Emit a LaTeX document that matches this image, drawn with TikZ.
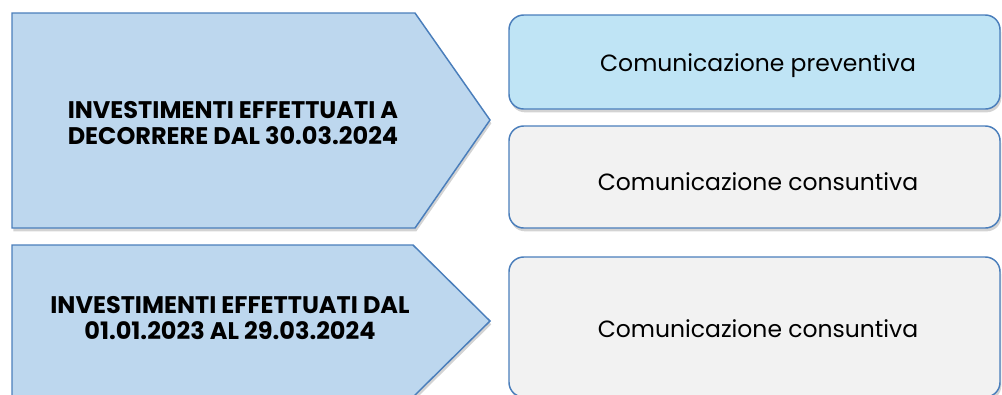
\documentclass[tikz,border=0pt]{standalone}
\usepackage{fontspec}
\setmainfont{Poppins}
\usetikzlibrary{shadows}

\definecolor{arrowblue}{HTML}{BDD7EE}
\definecolor{boxblue}{HTML}{BFE4F5}
\definecolor{boxgray}{HTML}{F2F2F2}
\definecolor{edgeblue}{HTML}{4A7EBB}

\tikzset{
  softshadow/.style={drop shadow={opacity=0.35, shadow xshift=1pt, shadow yshift=-2.5pt}},
  period/.style={draw=edgeblue, line width=1.1pt, fill=arrowblue, softshadow},
  notice/.style={draw=edgeblue, line width=1.1pt, rounded corners=11pt, softshadow},
  periodtext/.style={align=center, font=\bfseries\fontsize{18}{19.5}\selectfont},
  noticetext/.style={font=\fontsize{17.6}{20}\selectfont}
}

\begin{document}
\begin{tikzpicture}[x=0.75pt, y=-0.75pt]
  \clip (0,0) rectangle (1002,394);

  % left arrows
  \draw[period] (12,13) -- (415,13) -- (490,120) -- (415,228) -- (12,228) -- cycle;
  \draw[period] (12,245) -- (413,245) -- (490,321) -- (413,397) -- (12,397) -- cycle;

  \node[periodtext] (recenti) at (233,123) {INVESTIMENTI EFFETTUATI A\\DECORRERE DAL 30.03.2024};
  \node[periodtext] (pregressi) at (230,318) {INVESTIMENTI EFFETTUATI DAL\\01.01.2023 AL 29.03.2024};

  % right boxes
  \draw[notice, fill=boxblue] (509,15) rectangle (1000,109);
  \draw[notice, fill=boxgray] (509,126) rectangle (1000,228);
  \draw[notice, fill=boxgray] (509,257) rectangle (1000,397);

  \node[noticetext] (preventiva) at (758,66) {Comunicazione preventiva};
  \node[noticetext] (consuntiva) at (758,182) {Comunicazione consuntiva};
  \node[noticetext] (consuntivab) at (758,329) {Comunicazione consuntiva};
\end{tikzpicture}
\end{document}
